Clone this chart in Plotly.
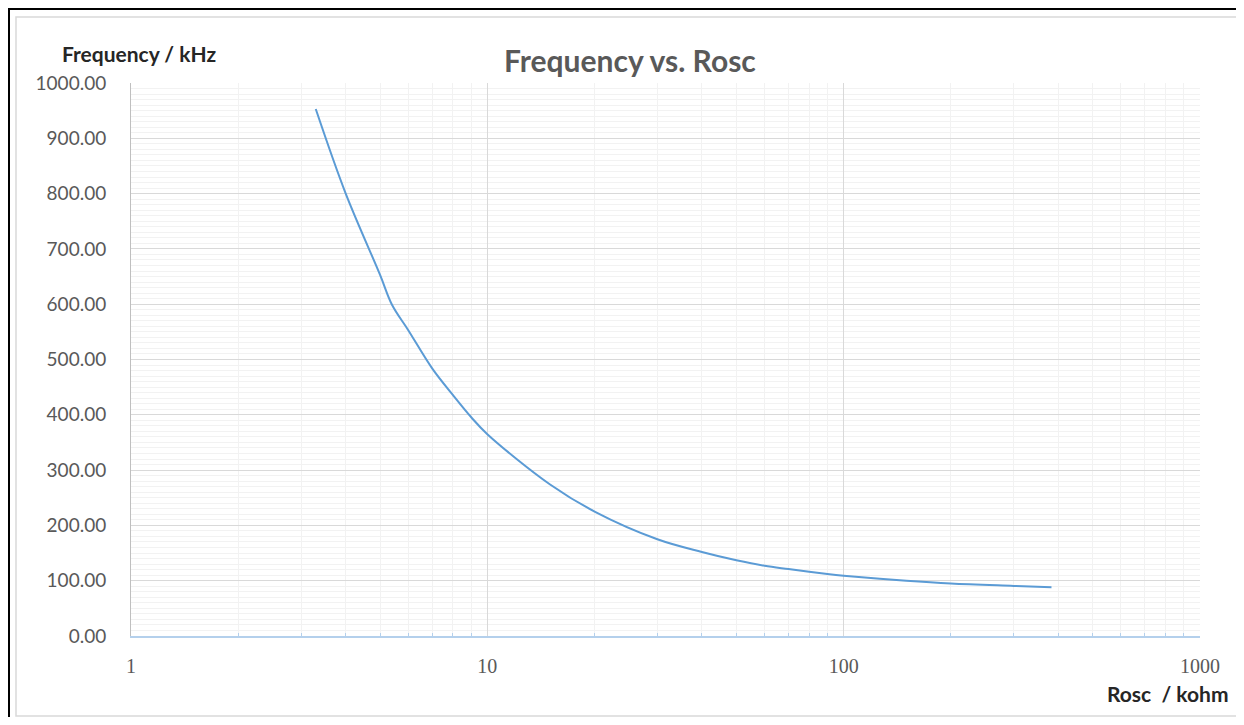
import plotly.graph_objects as go

# ---- data ----
rosc_kohm = [3.3, 4, 5, 5.4, 6, 7, 8, 9, 10, 15, 20, 30, 40, 50, 60, 70, 80, 90,
             100, 150, 200, 300, 383]
freq_khz = [953, 801, 653, 599, 553, 484, 436, 396, 365, 274, 225, 175, 152, 137,
            127, 121, 116, 112, 109, 100, 95, 90.5, 88]
x_tick_vals = [1, 10, 100, 1000]
x_tick_text = ["1", "10", "100", "1000"]

# ---- layout geometry ----
# The page body has an 8px margin, so the figure starts at page pixel (8, 8).
OFF = 8
W, H = 1244 - OFF, 725 - 2 * OFF
L, R, T, B = 131 - OFF, 1200 - OFF, 83 - OFF, 636 - OFF   # plot area (figure px)


def px(x):   # page pixel -> paper x
    return (x - OFF - L) / (R - L)


def py(y):   # page pixel -> paper y
    return (B - (y - OFF)) / (B - T)


minor_x = [m * 10 ** d for d in range(3) for m in range(2, 10)]

fig = go.Figure()
fig.add_trace(go.Scatter(
    x=rosc_kohm, y=freq_khz, mode="lines",
    line=dict(color="#5b9bd5", width=2, shape="spline", smoothing=1.0),
    showlegend=False, hoverinfo="x+y"))

fig.update_layout(
    width=W, height=H,
    margin=dict(l=L, r=W - R, t=T, b=H - B, pad=0),
    paper_bgcolor="white", plot_bgcolor="white",
    showlegend=False,
    font=dict(family="Lato, Open Sans, sans-serif", color="#595959"),
)

fig.update_xaxes(
    type="log", range=[0, 3],
    tickvals=x_tick_vals, ticktext=x_tick_text,
    tickfont=dict(family="Liberation Serif, DejaVu Serif, serif", size=20, color="#595959"),
    ticks="", ticklabelstandoff=11,
    showgrid=True, gridcolor="#d9d9d9", gridwidth=1,
    showline=True, linecolor="#b4d0ec", linewidth=2,
    zeroline=False,
    minor=dict(tickvals=minor_x, ticks="inside", ticklen=3, tickcolor="#b4d0ec",
               showgrid=True, gridcolor="#f2f2f2", gridwidth=1),
)

fig.update_yaxes(
    range=[0, 1000], dtick=100, tick0=0, tickformat=".2f",
    tickfont=dict(family="Lato, Open Sans, sans-serif", size=19, color="#595959"),
    ticks="", ticklabelstandoff=20,
    showgrid=True, gridcolor="#d9d9d9", gridwidth=1,
    showline=True, linecolor="#bfbfbf", linewidth=1,
    zeroline=False,
    minor=dict(dtick=10, showgrid=True, gridcolor="#f2f2f2", gridwidth=1),
)

# borders
fig.add_shape(type="rect", xref="paper", yref="paper",
              x0=px(16), x1=px(1237), y0=py(716), y1=py(17),
              line=dict(color="#d9d9d9", width=1.5), layer="below")
fig.add_shape(type="line", xref="paper", yref="paper",
              x0=px(9), x1=px(9), y0=py(740), y1=py(8),
              line=dict(color="black", width=2))
fig.add_shape(type="line", xref="paper", yref="paper",
              x0=px(8), x1=px(1260), y0=py(9), y1=py(9),
              line=dict(color="black", width=2))

# title and axis titles
fig.add_annotation(text="<b>Frequency vs. Rosc</b>", xref="paper", yref="paper",
                   x=px(630), y=py(60), showarrow=False, xanchor="center", yanchor="middle",
                   font=dict(family="Lato, Open Sans, sans-serif", size=30, color="#595959"))
fig.add_annotation(text="<b>Frequency / kHz</b>", xref="paper", yref="paper",
                   x=px(60), y=py(54), showarrow=False, xanchor="left", yanchor="middle",
                   font=dict(family="Lato, Open Sans, sans-serif", size=21, color="#262626"))
fig.add_annotation(text="<b>Rosc  / kohm</b>", xref="paper", yref="paper",
                   x=px(1231), y=py(693), showarrow=False, xanchor="right", yanchor="middle",
                   font=dict(family="Lato, Open Sans, sans-serif", size=21, color="#262626"))

fig.write_html("out.html")
